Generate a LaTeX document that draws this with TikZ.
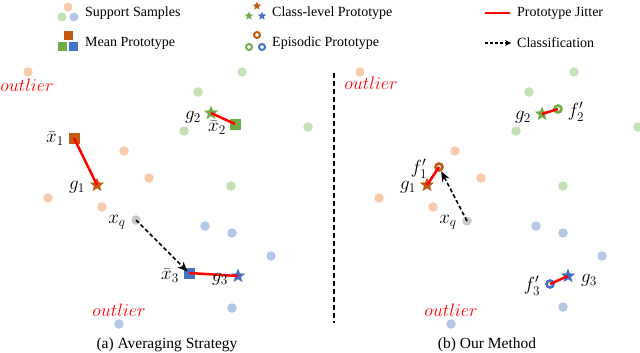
\RequirePackage{fix-cm}
\documentclass[tikz,border=0pt]{standalone}
\usepackage{fontspec}
\setmainfont{Liberation Serif}
\usetikzlibrary{shapes.geometric,arrows.meta}
\definecolor{oL}{HTML}{F8CBAD}
\definecolor{gL}{HTML}{C5E0B4}
\definecolor{bL}{HTML}{B4C7E7}
\definecolor{qL}{HTML}{C8C8C8}
\definecolor{oD}{HTML}{C55A11}
\definecolor{gD}{HTML}{70AD47}
\definecolor{bD}{HTML}{4472C4}
\begin{document}
\begin{tikzpicture}[x=1pt,y=-1pt,
  sample/.style={circle,inner sep=0pt,minimum size=9.5pt,fill=#1},
  meanp/.style={rectangle,inner sep=0pt,minimum size=11pt,fill=#1},
  classp/.style={star,star points=5,star point ratio=2.3,inner sep=0pt,minimum size=15pt,fill=#1},
  episp/.style={circle,inner sep=0pt,minimum size=7pt,draw=#1,line width=2.6pt},
  jitter/.style={draw=red,line width=2.5pt},
  classify/.style={line width=1.6pt,dash pattern=on 4pt off 2.5pt,-{Stealth[length=10pt,width=8pt]}},
  lbl/.style={inner sep=0pt,font=\fontsize{19}{21}\selectfont},
  legtext/.style={anchor=west,inner sep=0pt,font=\fontsize{14}{16}\selectfont},
  outl/.style={inner sep=0pt,text=red,font=\fontsize{18}{20}\selectfont},
  capt/.style={inner sep=0pt,font=\fontsize{15.5}{17}\selectfont}]
\useasboundingbox (0,0) rectangle (640,353);

% ---------------- legend ----------------
\node[sample=oL,minimum size=9pt] (lsO) at (68,7) {};
\node[sample=gL,minimum size=9pt] (lsG) at (62,17) {};
\node[sample=bL,minimum size=9pt] (lsB) at (74,17) {};
\node[legtext] (tSS) at (85,13) {Support Samples};
\node[meanp=oD,minimum size=9pt] (lmO) at (68,36) {};
\node[meanp=gD,minimum size=9pt] (lmG) at (62,47) {};
\node[meanp=bD,minimum size=9pt] (lmB) at (73,47) {};
\node[legtext] (tMP) at (85,43) {Mean Prototype};
\node[classp=oD,minimum size=9pt] (lcO) at (257,6) {};
\node[classp=gD,minimum size=9pt] (lcG) at (249,16) {};
\node[classp=bD,minimum size=9pt] (lcB) at (262,16) {};
\node[legtext] (tCP) at (272,13) {Class-level Prototype};
\node[episp=oD,minimum size=6pt,line width=2pt] (leO) at (257,35) {};
\node[episp=gD,minimum size=6pt,line width=2pt] (leG) at (249,47) {};
\node[episp=bD,minimum size=6pt,line width=2pt] (leB) at (262,47) {};
\node[legtext] (tEP) at (272,43) {Episodic Prototype};
\coordinate (lj1) at (485,13);
\coordinate (lj2) at (510,13);
\draw[jitter] (lj1) -- (lj2);
\node[legtext] (tPJ) at (517,13) {Prototype Jitter};
\coordinate (la1) at (485,43);
\coordinate (la2) at (511,43);
\draw[line width=1.2pt,dash pattern=on 3pt off 2pt,-{Stealth[length=6pt,width=6pt]}] (la1) -- (la2);
\node[legtext] (tCl) at (517,43) {Classification};

% ---------------- (a) averaging strategy ----------------
\node[sample=oL] (aO1) at (28,72) {};
\node[sample=oL] (aO2) at (124,151) {};
\node[sample=oL] (aO3) at (149,178) {};
\node[sample=oL] (aO4) at (48,198) {};
\node[sample=oL] (aO5) at (102,207) {};
\node[sample=gL] (aG1) at (242,72) {};
\node[sample=gL] (aG2) at (198,92) {};
\node[sample=gL] (aG3) at (184,131) {};
\node[sample=gL] (aG4) at (308,127) {};
\node[sample=gL] (aG5) at (231,186) {};
\node[sample=bL] (aB1) at (205,226) {};
\node[sample=bL] (aB2) at (232,233) {};
\node[sample=bL] (aB3) at (271,256) {};
\node[sample=bL] (aB4) at (232,308) {};
\node[sample=bL] (aB5) at (119,324) {};
\node[sample=qL] (aQ) at (136,220) {};
\node[meanp=oD] (aM1) at (74,138) {};
\node[meanp=gD] (aM2) at (235,124) {};
\node[meanp=bD] (aM3) at (189,273) {};
\node[classp=oD] (aC1) at (97,185) {};
\node[classp=gD] (aC2) at (211,113) {};
\node[classp=bD] (aC3) at (238,276) {};
\draw[jitter] (aM1.center) -- (aC1.center);
\draw[jitter] (aM2.center) -- (aC2.center);
\draw[jitter] (aM3.center) -- (aC3.center);
\draw[classify,shorten >=2pt] (aQ.center) -- (aM3.center);
\node[lbl] (laM1) at (55,139) {$\bar{x}_1$};
\node[lbl] (laC1) at (77,187) {$g_1$};
\node[lbl] (laC2) at (193,117) {$g_2$};
\node[lbl] (laM2) at (217,128) {$\bar{x}_2$};
\node[lbl] (laQ) at (117,222) {$x_q$};
\node[lbl] (laM3) at (170,276) {$\bar{x}_3$};
\node[lbl] (laC3) at (220,279) {$g_3$};
\node[outl] (aOut1) at (27,85) {$outlier$};
\node[outl] (aOut2) at (119,310) {$outlier$};
\node[capt] (capA) at (167,345) {(a) Averaging Strategy};

% ---------------- separator ----------------
\coordinate (sepT) at (334,73);
\coordinate (sepB) at (334,323);
\draw[line width=1.5pt,dash pattern=on 5pt off 3pt] (sepT) -- (sepB);

% ---------------- (b) our method ----------------
\node[sample=oL] (bO1) at (360,72) {};
\node[sample=oL] (bO2) at (455,151) {};
\node[sample=oL] (bO3) at (481,178) {};
\node[sample=oL] (bO4) at (379,198) {};
\node[sample=oL] (bO5) at (433,207) {};
\node[sample=gL] (bG1) at (574,72) {};
\node[sample=gL] (bG2) at (529,92) {};
\node[sample=gL] (bG3) at (516,131) {};
\node[sample=gL] (bG4) at (638,127) {};
\node[sample=gL] (bG5) at (563,186) {};
\node[sample=bL] (bB1) at (536,226) {};
\node[sample=bL] (bB2) at (563,233) {};
\node[sample=bL] (bB3) at (602,256) {};
\node[sample=bL] (bB4) at (563,307) {};
\node[sample=bL] (bB5) at (451,324) {};
\node[sample=qL] (bQ) at (467,221) {};
\node[classp=oD] (bC1) at (427,185) {};
\node[classp=gD] (bC2) at (542,114) {};
\node[classp=bD] (bC3) at (568,276) {};
\node[episp=oD] (bE1) at (439,167) {};
\node[episp=gD] (bE2) at (558,109) {};
\node[episp=bD] (bE3) at (550,284) {};
\draw[jitter] (bE1.center) -- (bC1.center);
\draw[jitter] (bE2.center) -- (bC2.center);
\draw[jitter] (bE3.center) -- (bC3.center);
\draw[classify] (bQ.center) -- (bE1);
\node[lbl] (lbE1) at (419,169) {$f'_1$};
\node[lbl] (lbC1) at (408,187) {$g_1$};
\node[lbl] (lbC2) at (523,117) {$g_2$};
\node[lbl] (lbE2) at (576,112) {$f'_2$};
\node[lbl] (lbQ) at (448,222) {$x_q$};
\node[lbl] (lbC3) at (589,280) {$g_3$};
\node[lbl] (lbE3) at (532,286) {$f'_3$};
\node[outl] (bOut1) at (371,83) {$outlier$};
\node[outl] (bOut2) at (451,310) {$outlier$};
\node[capt] (capB) at (487,345) {(b) Our Method};
\end{tikzpicture}
\end{document}
